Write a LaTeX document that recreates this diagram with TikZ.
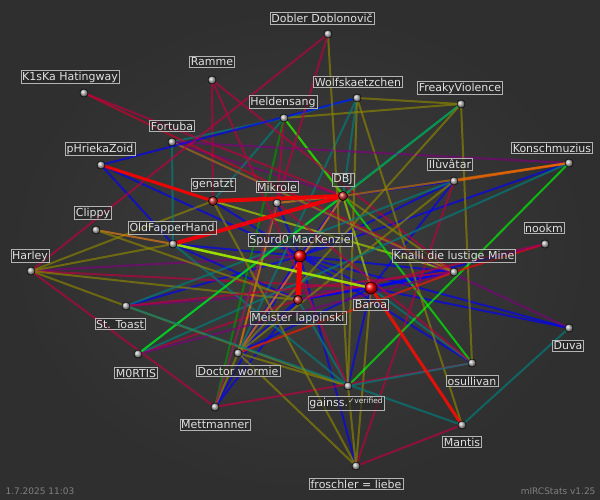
\documentclass[tikz,border=0pt]{standalone}
\usepackage{fontspec}
\setmainfont{DejaVu Sans}
\usetikzlibrary{shadings}
\definecolor{bgc}{RGB}{62,62,62}
\definecolor{lblc}{RGB}{225,225,225}
\tikzset{
  nick/.style={draw=lblc!80!black, fill=black!85, fill opacity=.6, text opacity=1, text=lblc,
    inner sep=1.3pt, font=\fontsize{11}{12}\selectfont},
  dot/.style={circle, inner sep=0pt, minimum size=8pt, draw=black, ball color=gray!60},
  hot/.style={circle, inner sep=0pt, minimum size=12pt, draw=black, ball color=red},
  warm/.style={circle, inner sep=0pt, minimum size=9pt, draw=black, ball color=red!60!gray},
  link/.style={line width=2pt, opacity=.65}
}
\begin{document}
\begin{tikzpicture}[x=1pt,y=-1pt]
  \useasboundingbox (0,0) rectangle (600,500);
  \fill[inner color=bgc, outer color=bgc!75!black] (0,0) rectangle (600,500);

  % people
  \node[dot]  (dob)  at (328,34)  {};
  \node[dot]  (ram)  at (212,80)  {};
  \node[dot]  (k1s)  at (84,93)   {};
  \node[dot]  (wolf) at (357,98)  {};
  \node[dot]  (frk)  at (461,104) {};
  \node[dot]  (held) at (284,118) {};
  \node[dot]  (fort) at (172,142) {};
  \node[dot]  (kon)  at (569,163) {};
  \node[dot]  (phr)  at (101,165) {};
  \node[dot]  (ilu)  at (454,181) {};
  \node[warm] (dbj)  at (343,196) {};
  \node[warm] (gen)  at (213,201) {};
  \node[dot]  (mik)  at (277,203) {};
  \node[dot]  (clip) at (96,230)  {};
  \node[dot]  (ofh)  at (173,244) {};
  \node[dot]  (nook) at (545,244) {};
  \node[hot]  (spu)  at (300,256) {};
  \node[dot]  (harl) at (31,271)  {};
  \node[dot]  (kna)  at (454,272) {};
  \node[hot]  (bar)  at (371,288) {};
  \node[warm] (mei)  at (298,300) {};
  \node[dot]  (sto)  at (126,306) {};
  \node[dot]  (duva) at (569,328) {};
  \node[dot]  (mor)  at (138,354) {};
  \node[dot]  (doc)  at (238,353) {};
  \node[dot]  (osu)  at (472,363) {};
  \node[dot]  (gai)  at (348,386) {};
  \node[dot]  (mett) at (215,407) {};
  \node[dot]  (man)  at (462,425) {};
  \node[dot]  (fro)  at (356,466) {};

  \foreach \from/\to/\col in {
      spu/bar/blue, spu/mei/blue, bar/mei/blue, spu/dbj/blue, spu/gen/blue, spu/mik/blue,
      spu/ofh/blue, spu/kna/blue, spu/harl/violet, spu/sto/blue, spu/doc/blue, spu/osu/blue,
      spu/duva/blue, spu/phr/blue, spu/kon/blue, spu/ilu/blue, spu/fro/blue, spu/mett/blue,
      bar/kna/blue, bar/ilu/blue, bar/duva/blue, bar/nook/blue, bar/doc/blue, bar/gai/blue,
      bar/dbj/lime!70!olive, bar/ofh/green, bar/osu/teal, bar/sto/violet, bar/harl/purple,
      bar/fro/olive, mei/doc/blue, mei/ofh/blue, mei/harl/olive, mei/mor/purple, mei/gai/teal,
      mei/kna/blue, mei/mett/blue, dbj/wolf/teal, dbj/held/olive, dbj/frk/green, dbj/ilu/blue,
      dbj/kon/purple, dbj/kna/olive, dbj/ofh/blue, dbj/mik/orange!70!brown, dbj/doc/orange,
      dbj/fort/violet, gen/kna/lime!70!olive, gen/held/teal, gen/ram/purple, gen/harl/olive,
      ofh/harl/olive, ofh/clip/orange!70!brown, ofh/phr/blue, ofh/fort/teal, ofh/gai/teal,
      mik/doc/orange, mik/held/purple, mik/mett/teal, held/wolf/teal, held/fort/teal,
      held/mett/green!60!black, held/frk/olive, held/osu/green, wolf/frk/olive, wolf/gai/olive,
      wolf/man/olive, wolf/doc/teal, ram/gai/purple, ram/kna/purple, k1s/dbj/purple,
      k1s/kna/purple!70!red, fort/kon/violet, fort/duva/violet, fort/kna/olive, phr/wolf/blue,
      frk/mor/teal, frk/doc/olive, frk/osu/olive, ilu/sto/teal, ilu/fro/purple, ilu/doc/olive,
      kon/gai/green, kon/dbj/olive, kon/mor/teal, nook/kna/red,
      nook/mei/purple, harl/sto/olive, harl/mett/purple, sto/kna/purple, sto/gai/olive,
      mor/kna/violet, mor/dbj/green, doc/gai/olive, doc/kna/red!80!orange, doc/mett/olive,
      doc/fro/olive, osu/mett/purple, osu/gai/teal, gai/fro/olive, gai/dob/olive,
      mett/dob/purple, man/sto/teal, man/fro/purple, man/duva/teal, clip/mei/olive,
      harl/dob/purple, gen/fro/olive, mik/osu/purple}
    \draw[link, draw=\col] (\from) -- (\to);
  \draw[line width=2.5pt, orange!80!red, opacity=.7] (kon) -- (ilu);
  \draw[line width=3pt, red!90!orange, opacity=.85] (bar) -- (man);
  \draw[line width=2.5pt, lime!80!olive, opacity=.85] (ofh) -- (bar);
  \draw[line width=3pt, red, opacity=.9] (phr) -- (gen);
  \draw[line width=4pt, red, opacity=.9] (gen) -- (dbj);
  \draw[line width=4pt, red, opacity=.9] (ofh) -- (dbj);
  \draw[line width=5pt, red] (spu) -- (mei);

  % redraw dots on top
  \foreach \n in {dob,ram,k1s,wolf,frk,held,fort,kon,phr,ilu,mik,clip,ofh,nook,harl,kna,sto,duva,mor,doc,osu,gai,mett,man,fro}
    \node[dot] at (\n) {};
  \foreach \n in {dbj,gen,mei}
    \node[warm] at (\n) {};
  \foreach \n in {spu,bar}
    \node[hot] at (\n) {};

  % names
  \node[nick] (ldob)  at (322,18)  {Dobler Doblonovič};
  \node[nick] (lram)  at (212,62)  {Ramme};
  \node[nick] (lk1s)  at (70,77)   {K1sKa Hatingway};
  \node[nick] (lwolf) at (358,82)  {Wolfskaetzchen};
  \node[nick] (lfrk)  at (460,88)  {FreakyViolence};
  \node[nick] (lheld) at (283,102) {Heldensang};
  \node[nick] (lfort) at (172,126) {Fortuba};
  \node[nick] (lkon)  at (552,148) {Konschmuzius};
  \node[nick] (lphr)  at (100,149) {pHriekaZoid};
  \node[nick] (lilu)  at (450,164) {Ilùvâtar};
  \node[nick] (ldbj)  at (343,180) {DBJ};
  \node[nick] (lgen)  at (213,185) {genatzt};
  \node[nick] (lmik)  at (277,187) {Mikrole};
  \node[nick] (lclip) at (93,213)  {Clippy};
  \node[nick] (lofh)  at (172,228) {OldFapperHand};
  \node[nick] (lnook) at (544,228) {nookm};
  \node[nick] (lspu)  at (300,240) {Spurd0 MacKenzie};
  \node[nick] (lharl) at (30,256)  {Harley};
  \node[nick] (lkna)  at (454,256) {Knalli die lustige Mine};
  \node[nick] (lbar)  at (371,305) {Baroa};
  \node[nick] (lmei)  at (298,318) {Meister lappinski};
  \node[nick] (lsto)  at (120,324) {St. Toast};
  \node[nick] (lduva) at (568,346) {Duva};
  \node[nick] (lmor)  at (136,373) {M0RTIS};
  \node[nick] (ldoc)  at (238,371) {Doctor wormie};
  \node[nick] (losu)  at (472,381) {osullivan};
  \node[nick] (lgai)  at (346,403) {gainss.\raisebox{3pt}{\fontsize{7.5}{8}\selectfont ✓verified}};
  \node[nick] (lmett) at (215,425) {Mettmanner};
  \node[nick] (lman)  at (462,442) {Mantis};
  \node[nick] (lfro)  at (356,484) {froschler = liebe};

  \node[gray, font=\fontsize{9}{10}\selectfont, anchor=west] (date) at (2,491) {1.7.2025 11:03};
  \node[gray, font=\fontsize{9}{10}\selectfont, anchor=east] (ver) at (599,491) {mIRCStats v1.25};
\end{tikzpicture}
\end{document}
